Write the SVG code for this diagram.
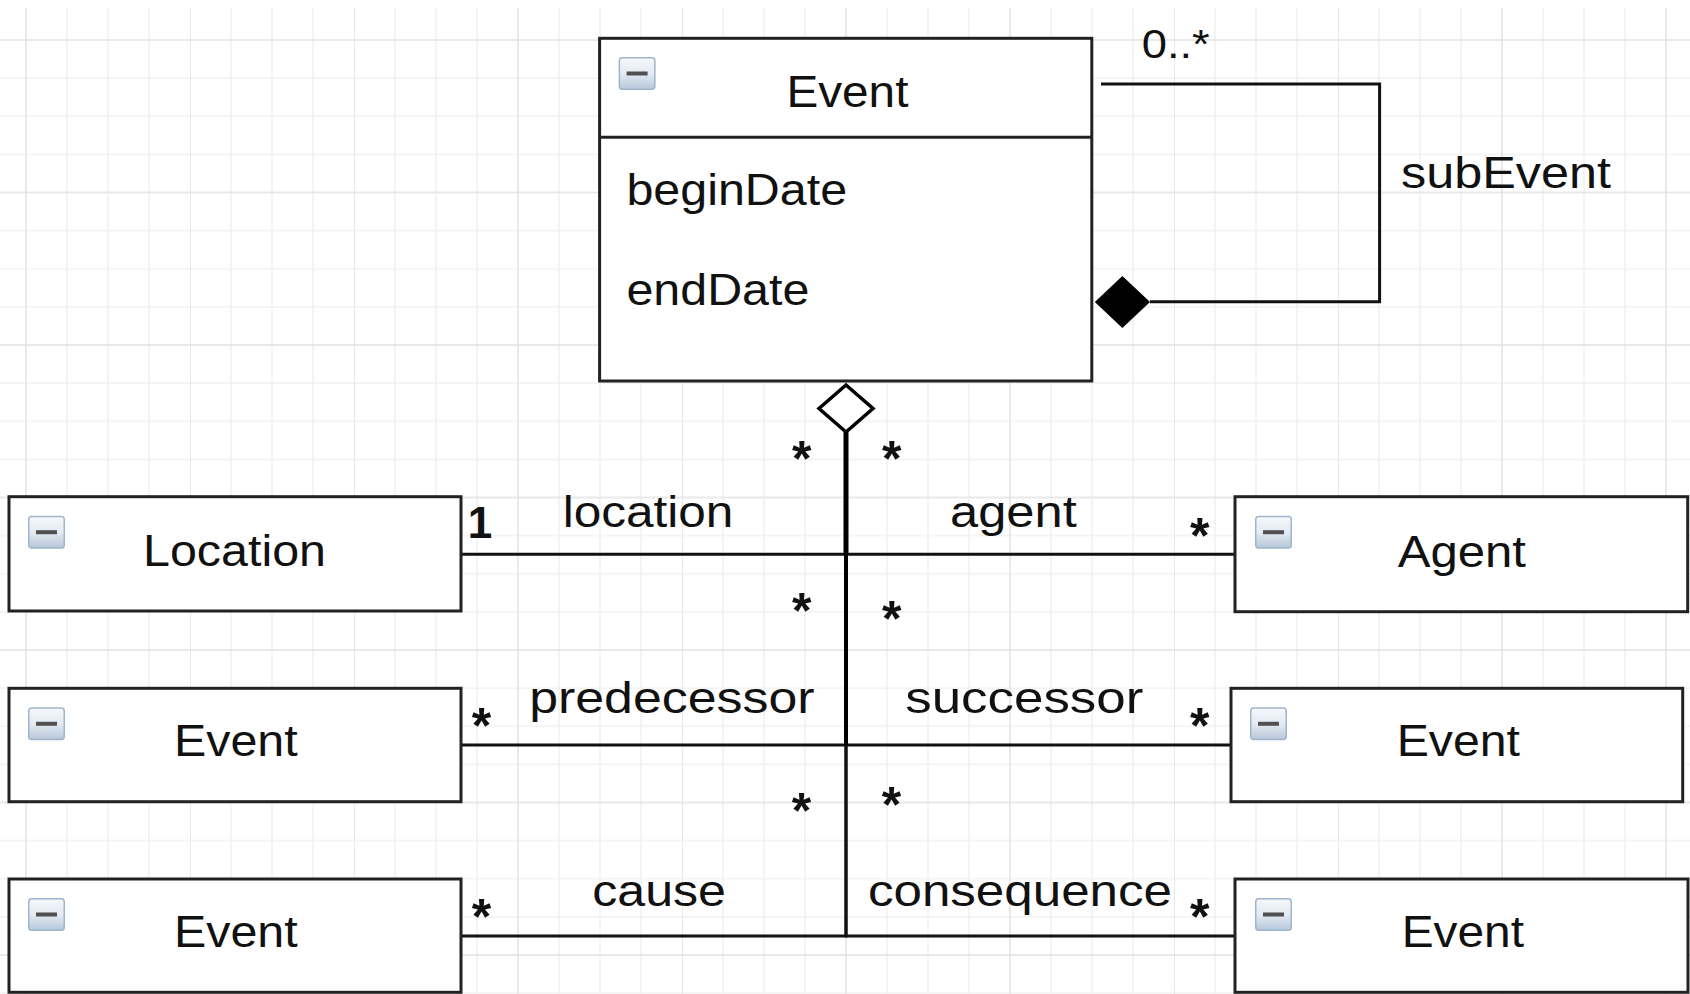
<svg xmlns="http://www.w3.org/2000/svg" width="1690" height="994" viewBox="0 0 1690 994">
<defs>
<pattern id="grid" x="25" y="39" width="164" height="152.5" patternUnits="userSpaceOnUse">
<rect x="41.25" y="0" width="1.5" height="152.5" fill="#f1f1f1"/>
<rect x="82.25" y="0" width="1.5" height="152.5" fill="#f1f1f1"/>
<rect x="123.25" y="0" width="1.5" height="152.5" fill="#f1f1f1"/>
<rect x="0" y="38.4" width="164" height="1.5" fill="#f1f1f1"/>
<rect x="0" y="76.5" width="164" height="1.5" fill="#f1f1f1"/>
<rect x="0" y="114.6" width="164" height="1.5" fill="#f1f1f1"/>
<rect x="0.25" y="0" width="1.5" height="152.5" fill="#e2e2e2"/>
<rect x="0" y="0.25" width="164" height="1.5" fill="#e2e2e2"/>
</pattern>
<linearGradient id="icg" x1="0" y1="0" x2="0" y2="1">
<stop offset="0" stop-color="#f6f8fb"/>
<stop offset="0.5" stop-color="#e3eaf2"/>
<stop offset="1" stop-color="#b6c7d9"/>
</linearGradient>
<g id="icon">
<rect x="0.75" y="0.75" width="35.5" height="31.5" rx="3" fill="url(#icg)" stroke="#9fb5cb" stroke-width="1.5"/>
<rect x="8" y="14.5" width="21" height="4" fill="#505050"/>
</g>
</defs>
<style>
.box{fill:#ffffff;stroke:#222222;stroke-width:3}
.t{font-family:"Liberation Sans",Arial,sans-serif;font-size:44px;fill:#111111}
.st{font-family:"Liberation Sans",Arial,sans-serif;font-size:50px;font-weight:bold;fill:#111111;text-anchor:middle}
.c{fill:none;stroke:#111111;stroke-width:3}
</style>
<rect x="0" y="0" width="1690" height="994" fill="#ffffff"/>
<rect x="0" y="8" width="1690" height="986" fill="url(#grid)"/>

<g id="connectors">
<path class="c" d="M1101,84 H1379.6 V301.7 H1150"/>
<polygon points="1094.8,302 1122.4,276 1150,302 1122.4,328" fill="#000000"/>
<path class="c" d="M846,432 V554.3 H461"/>
<path class="c" d="M846,432 V554.3 H1235"/>
<path class="c" d="M846,432 V745 H461"/>
<path class="c" d="M846,432 V745 H1231"/>
<path class="c" d="M846,432 V936 H461"/>
<path class="c" d="M846,432 V936 H1235"/>
<path d="M846,432 V554.3" stroke="#000" stroke-width="5" fill="none"/>
<path d="M846,554.3 V745" stroke="#000" stroke-width="4" fill="none"/>
<polygon points="846,385 873,408.5 846,432 819,408.5" fill="#ffffff" stroke="#000000" stroke-width="3.5"/>
<text class="t" x="1141.7" y="58.3" style="font-size:40px" textLength="68" lengthAdjust="spacingAndGlyphs">0..*</text>
<text class="t" x="1401" y="188.3" textLength="210" lengthAdjust="spacingAndGlyphs">subEvent</text>
<text class="t" x="562.7" y="526.7" textLength="170.7" lengthAdjust="spacingAndGlyphs">location</text>
<text class="t" x="950" y="526.7" textLength="126.7" lengthAdjust="spacingAndGlyphs">agent</text>
<text class="t" x="529.2" y="713.3" textLength="285.3" lengthAdjust="spacingAndGlyphs">predecessor</text>
<text class="t" x="905.2" y="713" textLength="238.2" lengthAdjust="spacingAndGlyphs">successor</text>
<text class="t" x="592.3" y="906" textLength="133.7" lengthAdjust="spacingAndGlyphs">cause</text>
<text class="t" x="867.9" y="906" textLength="304.1" lengthAdjust="spacingAndGlyphs">consequence</text>
<text class="t" x="480" y="538.3" style="font-weight:bold;text-anchor:middle">1</text>
<text class="st" x="801.7" y="476">*</text>
<text class="st" x="891.7" y="476">*</text>
<text class="st" x="801.7" y="627.5">*</text>
<text class="st" x="891.7" y="636">*</text>
<text class="st" x="801.5" y="827.5">*</text>
<text class="st" x="891.5" y="822">*</text>
<text class="st" x="1199.7" y="552.5">*</text>
<text class="st" x="1199.7" y="743">*</text>
<text class="st" x="1199.7" y="934">*</text>
<text class="st" x="481.5" y="743">*</text>
<text class="st" x="481.5" y="934">*</text>
</g>

<g id="node-event-main">
<rect class="box" x="599.6" y="38.3" width="492.2" height="342.7"/>
<line x1="599.6" y1="137.3" x2="1091.8" y2="137.3" stroke="#222222" stroke-width="3"/>
<use href="#icon" x="618.6" y="57"/>
<text class="t" x="786.4" y="107.3" textLength="122" lengthAdjust="spacingAndGlyphs">Event</text>
<text class="t" x="626.4" y="205" textLength="220.7" lengthAdjust="spacingAndGlyphs">beginDate</text>
<text class="t" x="626.4" y="305" textLength="183" lengthAdjust="spacingAndGlyphs">endDate</text>
</g>

<g id="node-location">
<rect class="box" x="9" y="496.7" width="452" height="114.3"/>
<use href="#icon" x="28" y="515.7"/>
<text class="t" x="143" y="566" textLength="183" lengthAdjust="spacingAndGlyphs">Location</text>
</g>

<g id="node-event-pred">
<rect class="box" x="9" y="688.3" width="452" height="113.4"/>
<use href="#icon" x="28" y="707.3"/>
<text class="t" x="174" y="756" textLength="123.7" lengthAdjust="spacingAndGlyphs">Event</text>
</g>

<g id="node-event-cause">
<rect class="box" x="9" y="879" width="452" height="113.3"/>
<use href="#icon" x="28" y="898"/>
<text class="t" x="174" y="946.7" textLength="123.7" lengthAdjust="spacingAndGlyphs">Event</text>
</g>

<g id="node-agent">
<rect class="box" x="1235" y="496.7" width="452.7" height="115"/>
<use href="#icon" x="1255" y="515.7"/>
<text class="t" x="1397.7" y="566.7" textLength="128.3" lengthAdjust="spacingAndGlyphs">Agent</text>
</g>

<g id="node-event-succ">
<rect class="box" x="1231" y="688.3" width="451.7" height="113.4"/>
<use href="#icon" x="1250" y="707.3"/>
<text class="t" x="1396.7" y="756" textLength="123.3" lengthAdjust="spacingAndGlyphs">Event</text>
</g>

<g id="node-event-cons">
<rect class="box" x="1235" y="879" width="453" height="113.3"/>
<use href="#icon" x="1255" y="898"/>
<text class="t" x="1401.7" y="946.7" textLength="122.3" lengthAdjust="spacingAndGlyphs">Event</text>
</g>
</svg>
